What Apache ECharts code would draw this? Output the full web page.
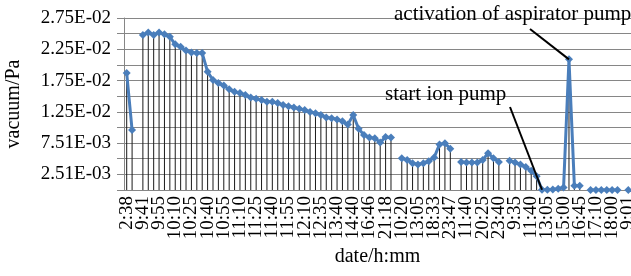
<!DOCTYPE html>
<html>
<head>
<meta charset="utf-8">
<script src="https://cdn.jsdelivr.net/npm/echarts@6/dist/echarts.min.js"></script>
<style>
html, body { margin: 0; padding: 0; background: #fff; }
#main { width: 631px; height: 276px; }
</style>
</head>
<body>
<div id="main"></div>
<script>
var dom = document.getElementById("main");
var myChart = echarts.init(dom);

// tick labels under the axis (every 3rd category carries a label)
var timeLabels = ['2:38', '9:41', '9:55', '10:10', '10:25', '10:40', '10:55', '11:10',
    '11:25', '11:40', '11:55', '12:10', '12:35', '13:40', '14:40', '16:46', '21:18',
    '10:20', '13:05', '18:33', '23:47', '11:40', '20:25', '23:40', '9:35', '11:40',
    '13:05', '15:00', '16:45', '17:10', '18:00', '9:01'];
var labelStep = 3;

// vacuum readings, Pa (null = no reading)
var vacuum = [
    0.0187, 0.0096, null, 0.0248, 0.0252, 0.0248, 0.0252, 0.0249, 0.0245, 0.0233,
    0.0229, 0.0223, 0.0220, 0.0219, 0.0219, 0.0189, 0.0176, 0.0171, 0.0167, 0.0161,
    0.0157, 0.0155, 0.0152, 0.0148, 0.0146, 0.0144, 0.0141, 0.0141, 0.0139, 0.0136,
    0.0134, 0.0132, 0.0130, 0.0128, 0.0125, 0.0123, 0.0120, 0.0116, 0.0115, 0.0113,
    0.0110, 0.0105, 0.0120, 0.0098, 0.0088, 0.0084, 0.0083, 0.0076, 0.0085, 0.0084,
    null, 0.0051, 0.0048, 0.0043, 0.0041, 0.0043, 0.0046, 0.0052, 0.0073, 0.0075,
    0.0066, null, 0.0045, 0.0044, 0.0044, 0.0044, 0.0048, 0.0059, 0.0051, 0.0045,
    null, 0.0047, 0.0044, 0.0041, 0.0037, 0.0031, 0.0022, 0.00005, 0.00005, 0.0001,
    0.0002, 0.0004, 0.0209, 0.0007, 0.0007, null, 0.00002, 0.00002, 0.00002, 0.00002,
    0.00002, 0.00002, null, 0.00002
];

var yTickLabels = ['', '2.51E-03', '', '7.51E-03', '', '1.25E-02', '', '1.75E-02', '', '2.25E-02', '', '2.75E-02'];
var yMin = 0.00001, yMax = 0.02751, yStep = 0.0025;

var notes = ['activation of aspirator pump', 'start ion pump'];
var noteIdx = [82, 77];

var categories = vacuum.map(function (v, i) {
    return i % labelStep === 0 ? timeLabels[i / labelStep] : '';
});

var font = '"Liberation Serif", "Times New Roman", serif';

myChart.setOption({
    animation: false,
    grid: {
        left: 124,
        right: 0,
        top: 18,
        bottom: 86,
        outerBoundsMode: 'none'
    },
    xAxis: {
        type: 'category',
        data: categories,
        name: 'date/h:mm',
        nameLocation: 'middle',
        nameGap: 50,
        nameTextStyle: { fontFamily: font, fontSize: 20, color: '#000' },
        axisLine: { lineStyle: { color: '#868686', width: 1 } },
        axisTick: { show: false },
        axisLabel: {
            interval: 0,
            rotate: 90,
            margin: 6,
            fontFamily: font,
            fontSize: 19,
            color: '#000'
        },
        splitLine: { show: false }
    },
    yAxis: {
        type: 'value',
        min: yMin,
        max: yMax,
        interval: yStep,
        name: 'vacuum/Pa',
        nameLocation: 'middle',
        nameGap: 100,
        nameRotate: 90,
        nameTextStyle: { fontFamily: font, fontSize: 20, color: '#000' },
        axisLine: { show: true, lineStyle: { color: '#868686' } },
        axisTick: { show: true, inside: false, length: 7, lineStyle: { color: '#868686' } },
        axisLabel: {
            margin: 13,
            fontFamily: font,
            fontSize: 19,
            color: '#000',
            formatter: function (val) {
                return yTickLabels[Math.round((val - yMin) / yStep)] || '';
            }
        },
        splitLine: { show: true, lineStyle: { color: '#868686', width: 1 } }
    },
    series: [{
        // drop lines
        type: 'bar',
        data: vacuum,
        barWidth: 1,
        itemStyle: { color: '#1a1a1a' },
        silent: true,
        z: 2
    }, {
        type: 'line',
        data: vacuum,
        symbol: 'diamond',
        symbolSize: 8,
        showAllSymbol: true,
        connectNulls: false,
        lineStyle: { color: '#4A7EBB', width: 3 },
        itemStyle: { color: '#4A7EBB' },
        z: 3
    }]
});

// annotations pointing at the two events
var peak = myChart.convertToPixel({ seriesIndex: 1 }, [noteIdx[0], vacuum[noteIdx[0]]]);
var ion = myChart.convertToPixel({ seriesIndex: 1 }, [noteIdx[1], vacuum[noteIdx[1]]]);

myChart.setOption({
    graphic: [{
        type: 'text',
        left: 394,
        top: 4,
        style: { text: notes[0], font: '21px ' + font, fill: '#000' },
        z: 10
    }, {
        type: 'line',
        shape: { x1: 530, y1: 29, x2: peak[0], y2: peak[1] },
        style: { stroke: '#000', lineWidth: 2 },
        z: 10
    }, {
        type: 'text',
        left: 385,
        top: 84,
        style: { text: notes[1], font: '21px ' + font, fill: '#000' },
        z: 10
    }, {
        type: 'line',
        shape: { x1: 510, y1: 107, x2: ion[0], y2: ion[1] },
        style: { stroke: '#000', lineWidth: 2 },
        z: 10
    }]
});
</script>
</body>
</html>
